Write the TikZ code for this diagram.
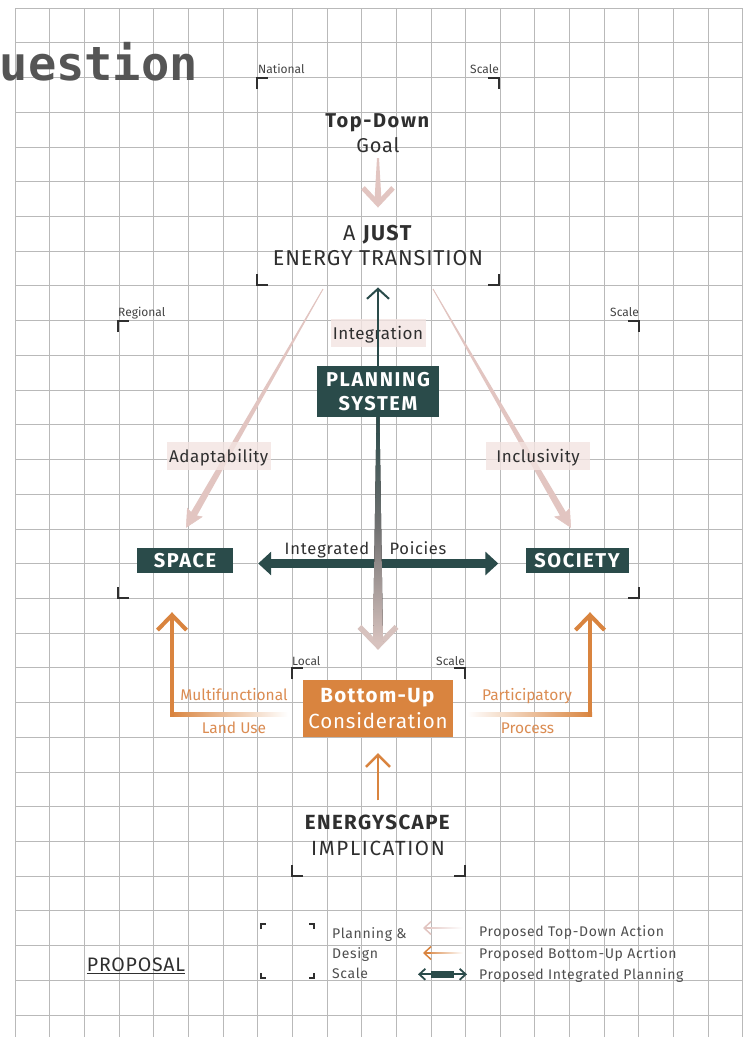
\documentclass[tikz,border=0pt]{standalone}
\usepackage{fontspec}
\setmainfont{Fira Sans}
\newfontfamily\titlemono{DejaVu Sans Mono}
\usetikzlibrary{arrows.meta, calc, positioning}

\definecolor{planteal}{HTML}{2A4B4A}
\definecolor{topdown}{HTML}{E2C5C1}
\definecolor{tdtag}{HTML}{F3E4E1}
\definecolor{buorange}{HTML}{D9843F}
\definecolor{butext}{HTML}{DB8C52}
\definecolor{ink}{HTML}{2F2F2F}
\definecolor{gridgray}{HTML}{B9B9B9}
\definecolor{fadegray}{HTML}{D7C2BE}
\definecolor{titlegray}{HTML}{555555}

% tapered shaft: style, from, to, half width at start, half width at end
\newcommand{\taper}[5]{%
  \fill[#1] ($(#2)!#4!90:(#3)$) -- ($(#3)!#5!-90:(#2)$)
    -- ($(#3)!#5!90:(#2)$) -- ($(#2)!#4!-90:(#3)$) -- cycle;}

\begin{document}
\begin{tikzpicture}[x=1pt, y=-1pt,
    every node/.style={inner sep=0pt, text=ink},
    gridline/.style={draw=gridgray, line width=0.6pt},
    corner/.style={draw=ink, line width=1.1pt},
    scalelabel/.style={font=\fontsize{12}{13}\selectfont, text=ink!90},
    heading/.style={align=center, font=\fontsize{20}{25.5}\selectfont\addfontfeature{LetterSpace=4}},
    tealbox/.style={fill=planteal, text=white, align=center,
        font=\bfseries\fontsize{20}{23.5}\selectfont\addfontfeature{LetterSpace=8}},
    rosetag/.style={fill=tdtag, fill opacity=0.8, text opacity=1,
        text height=12pt, text depth=0pt, font=\fontsize{17}{20}\selectfont\addfontfeature{LetterSpace=3}},
    oranget/.style={text=butext, anchor=base, font=\fontsize{15.5}{18}\selectfont},
    legendtxt/.style={anchor=base west, text=ink!85, font=\fontsize{14}{20}\selectfont\addfontfeature{LetterSpace=4.5}},
    bottomline/.style={draw=buorange, line width=4pt,
        -{Straight Barb[length=15pt, width=29pt]}},
  ]
  \fill[white] (0,0) rectangle (747,1037);
  \useasboundingbox (0,0) rectangle (747,1037);

  % grid
  \foreach \i in {0,...,21}
    \draw[gridline] (15+34.65*\i, 8) -- (15+34.65*\i, 1037);
  \foreach \j in {0,...,29}
    \draw[gridline] (15, 8+34.72*\j) -- (743, 8+34.72*\j);

  % scale frames
  \foreach \l/\t/\r/\b/\a in {257/78/499/285/11, 118/321/639/598/11, 292/668/465/876/11, 261/924/314/978/5} {
    \draw[corner] (\l,\t+\a) -- (\l,\t) -- (\l+\a,\t);
    \draw[corner] (\r-\a,\t) -- (\r,\t) -- (\r,\t+\a);
    \draw[corner] (\l,\b-\a) -- (\l,\b) -- (\l+\a,\b);
    \draw[corner] (\r-\a,\b) -- (\r,\b) -- (\r,\b-\a);
  }
  \node[scalelabel, anchor=base west] (national) at (258,73) {National};
  \node[scalelabel, anchor=base east] (nationalscale) at (499,73) {Scale};
  \node[scalelabel, anchor=base west] (regional) at (118,316) {Regional};
  \node[scalelabel, anchor=base east] (regionalscale) at (639,316) {Scale};
  \node[scalelabel, anchor=base west] (local) at (292,665) {Local};
  \node[scalelabel, anchor=base east] (localscale) at (465,665) {Scale};

  \node[anchor=base east, text=titlegray, font=\titlemono\bfseries\fontsize{47}{47}\selectfont] (title) at (198,80) {uestion};

  % main nodes
  \node[heading] (goal) at (378,133) {\textbf{\addfontfeature{LetterSpace=8}Top-Down}\\Goal};
  \node[heading, font=\fontsize{21.5}{25}\selectfont\addfontfeature{LetterSpace=4}] (just) at (378,245) {A \textbf{\addfontfeature{LetterSpace=7}JUST}\\ENERGY TRANSITION};
  \node[tealbox, minimum width=122pt, minimum height=51pt] (planning) at (378,391.5) {PLANNING\\SYSTEM};
  \node[tealbox, minimum width=96pt, minimum height=25pt] (space) at (185,560.5) {SPACE};
  \node[tealbox, minimum width=103pt, minimum height=25pt] (society) at (577,560.5) {SOCIETY};
  \node[fill=buorange, text=white, align=center, minimum width=150pt, minimum height=57pt,
    font=\fontsize{20.5}{26}\selectfont\addfontfeature{LetterSpace=4}] (bottomup) at (378,708.5) {\textbf{\addfontfeature{LetterSpace=6.5}Bottom-Up}\\Consideration};
  \node[heading, font=\fontsize{20.5}{26}\selectfont\addfontfeature{LetterSpace=8}] (energyscape) at (378,835) {\textbf{\addfontfeature{LetterSpace=7}ENERGYSCAPE}\\IMPLICATION};

  % top-down goal
  \coordinate (tdStart) at ($(goal.south)+(0,5)$);
  \coordinate (tdTip) at ($(just.north)+(0,-17)$);
  \coordinate (tdNeck) at ($(tdTip)!7pt!(tdStart)$);
  \taper{topdown}{tdStart}{tdNeck}{1pt}{3.5pt}
  \draw[topdown, line width=1pt, -{Straight Barb[length=16pt, width=30pt, line width=5pt]}] (tdStart) -- (tdTip);

  % integration
  \node[rosetag, minimum width=95pt, minimum height=27.5pt] (integration) at (378,333) {Integration};
  \coordinate (intTip) at ($(just.south)+(0,22)$);
  \draw[planteal, line width=2pt, -{Straight Barb[length=10pt, width=22pt]}] (planning.north) -- (intTip);

  % adaptability and inclusivity
  \coordinate (adTop) at (323,289);
  \coordinate (adTip) at ($(space.north)+(1,-20)$);
  \coordinate (adNeck) at ($(adTip)!12pt!(adTop)$);
  \taper{topdown}{adTop}{adNeck}{0.4pt}{3.5pt}
  \draw[topdown, line width=0.5pt, -{Stealth[length=18pt, width=18pt, inset=3pt]}] (adTop) -- (adTip);
  \coordinate (inTop) at (433,289);
  \coordinate (inTip) at ($(society.north)+(-6,-20)$);
  \coordinate (inNeck) at ($(inTip)!12pt!(inTop)$);
  \taper{topdown}{inTop}{inNeck}{0.4pt}{3.5pt}
  \draw[topdown, line width=0.5pt, -{Stealth[length=18pt, width=18pt, inset=3pt]}] (inTop) -- (inTip);
  \node[rosetag, minimum width=104pt, minimum height=27.7pt] (adaptability) at (218.7,456.2) {Adaptability};
  \node[rosetag, minimum width=104pt, minimum height=27.7pt] (inclusivity) at (538,456.2) {Inclusivity};

  % integrated policies
  \draw[planteal, line width=9pt, {Triangle[length=13pt, width=23pt]}-{Triangle[length=13pt, width=23pt]},
    shorten <=25pt, shorten >=27pt] ([yshift=-3pt]space.east) -- ([yshift=-3pt]society.west);
  \node[anchor=base, font=\fontsize{16.5}{18}\selectfont\addfontfeature{LetterSpace=5}] (integrated) at (327,554) {Integrated};
  \node[anchor=base, font=\fontsize{16.5}{18}\selectfont\addfontfeature{LetterSpace=4}] (policies) at (418,554) {Poicies};

  % planning system down to bottom-up
  \coordinate (gsTip) at ($(bottomup.north)+(0,-30)$);
  \coordinate (gsNeck) at ($(gsTip)!8pt!(planning.south)$);
  \draw[fadegray, line width=0.5pt, -{Straight Barb[length=19pt, width=37pt, line width=5.5pt]}] (planning.south) -- (gsTip);
  \taper{top color=planteal, bottom color=fadegray, middle color=black!55}{planning.south}{gsNeck}{1.5pt}{5pt}

  % energyscape up to bottom-up
  \coordinate (esStart) at ($(energyscape.north)+(0,-14)$);
  \draw[buorange, line width=2.5pt, -{Straight Barb[length=12pt, width=24pt]}, shorten >=16pt] (esStart) -- (bottomup.south);

  % bottom-up to space and society
  \coordinate (mfStart) at ($(bottomup.west)+(-15,6)$);
  \coordinate (mfTip) at ($(space.south)+(-13,39)$);
  \coordinate (mfCorner) at (mfTip |- mfStart);
  \shade[left color=buorange, right color=white] ($(mfCorner)+(-2,-2)$) rectangle ($(mfStart)+(0,2)$);
  \draw[bottomline] ($(mfCorner)+(0,2)$) -- (mfTip);
  \coordinate (ppStart) at ($(bottomup.east)+(14,6)$);
  \coordinate (ppTip) at ($(society.south)+(13,39)$);
  \coordinate (ppCorner) at (ppTip |- ppStart);
  \shade[left color=white, right color=buorange] ($(ppStart)+(0,-2)$) rectangle ($(ppCorner)+(2,2)$);
  \draw[bottomline] ($(ppCorner)+(0,2)$) -- (ppTip);
  \node[oranget] (multi) at (234,700.7) {Multifunctional};
  \node[oranget] (landuse) at (234,733) {Land Use};
  \node[oranget] (partic) at (527,700.7) {Participatory};
  \node[oranget] (process) at (527.5,733) {Process};

  % legend
  \node[anchor=base, font=\fontsize{19.5}{22}\selectfont\addfontfeature{LetterSpace=4}] (proposal) at (136,971.7) {\underline{PROPOSAL}};
  \node[legendtxt, anchor=north west, align=left] (pdscale) at (332,927.5) {Planning \&\\Design\\Scale};
  \coordinate (ltdFrom) at (463,928);
  \coordinate (ltdTo) at (423,928);
  \shade[left color=topdown, right color=white] ($(ltdTo)+(2,-0.8)$) rectangle ($(ltdFrom)+(0,0.8)$);
  \draw[topdown, line width=1.5pt, -{Straight Barb[length=7pt, width=13pt]}] ($(ltdTo)+(8,0)$) -- (ltdTo);
  \coordinate (lbuFrom) at (463,953);
  \coordinate (lbuTo) at (423,953);
  \shade[left color=buorange, right color=white] ($(lbuTo)+(2,-0.8)$) rectangle ($(lbuFrom)+(0,0.8)$);
  \draw[buorange, line width=1.5pt, -{Straight Barb[length=7pt, width=13pt]}] ($(lbuTo)+(8,0)$) -- (lbuTo);
  \coordinate (lipFrom) at (418,974.3);
  \coordinate (lipTo) at (467,974.3);
  \draw[planteal, line width=1.8pt, {Straight Barb[length=6pt, width=11pt]}-{Straight Barb[length=6pt, width=11pt]}] (lipFrom) -- (lipTo);
  \fill[planteal] (431,970.5) rectangle (454,978);
  \node[legendtxt] (ltd) at (479,936) {Proposed Top-Down Action};
  \node[legendtxt] (lbu) at (479,958) {Proposed Bottom-Up Acrtion};
  \node[legendtxt] (lip) at (479,979) {Proposed Integrated Planning};
\end{tikzpicture}
\end{document}
